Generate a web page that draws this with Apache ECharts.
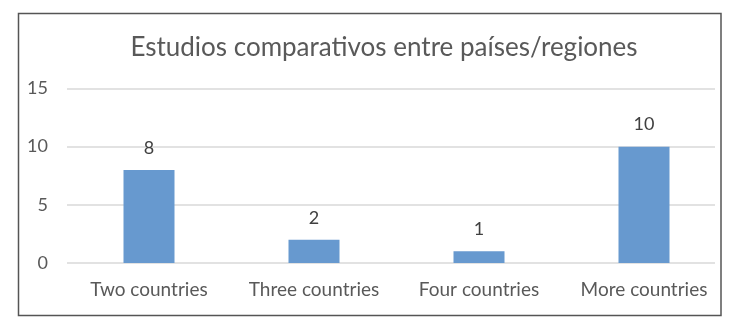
<!DOCTYPE html>
<html>
<head>
<meta charset="utf-8">
<script src="https://cdn.jsdelivr.net/npm/echarts@6/dist/echarts.min.js"></script>
<style>html,body{margin:0;padding:0;background:#fff}#c{width:740px;height:330px}</style>
</head>
<body>
<div id="c"></div>
<script>
const categories = ['Two countries', 'Three countries', 'Four countries', 'More countries'];
const values = [8, 2, 1, 10];
const yTicks = [0, 5, 10, 15];
const titleText = 'Estudios comparativos entre países/regiones';

const FONT = 'Lato';
const chart = echarts.init(document.getElementById('c'), null, {renderer: 'canvas'});
chart.setOption({
  animation: false,
  backgroundColor: '#ffffff',
  title: {
    text: titleText,
    left: 379, top: 30, textAlign: 'center',
    textStyle: {fontFamily: FONT, fontSize: 26, fontWeight: 'normal', color: '#595959'}
  },
  graphic: [{
    type: 'rect', shape: {x: 18.5, y: 13.5, width: 702.5, height: 302},
    style: {fill: 'none', stroke: '#555555', lineWidth: 1.5}, z: 100
  }],
  grid: [
    {left: 66.5, width: 660, top: 88.5, bottom: 67, containLabel: false},
    {left: 67, right: 25, top: 88.5, bottom: 67, containLabel: false}
  ],
  xAxis: [
    {type: 'category', gridIndex: 0, data: categories,
     axisLine: {show: false}, axisTick: {show: false},
     axisLabel: {margin: 17, fontFamily: FONT, fontSize: 19, color: '#595959', interval: 0}},
    {type: 'category', gridIndex: 1, data: categories, show: false}
  ],
  yAxis: [
    {type: 'value', gridIndex: 0, min: yTicks[0], max: yTicks[yTicks.length - 1], interval: 5, show: false},
    {type: 'value', gridIndex: 1, min: yTicks[0], max: yTicks[yTicks.length - 1], interval: 5,
     axisLine: {show: false}, axisTick: {show: false},
     axisLabel: {margin: 19, fontFamily: FONT, fontSize: 18, color: '#595959'},
     splitLine: {show: true, lineStyle: {color: '#d9d9d9', width: 1.5}}}
  ],
  series: [{
    type: 'bar', xAxisIndex: 0, yAxisIndex: 0,
    data: values, barWidth: 51,
    itemStyle: {color: '#6799cf'},
    label: {show: true, position: 'top', distance: 13,
            fontFamily: FONT, fontSize: 18, color: '#404040'}
  }]
});
</script>
</body>
</html>
